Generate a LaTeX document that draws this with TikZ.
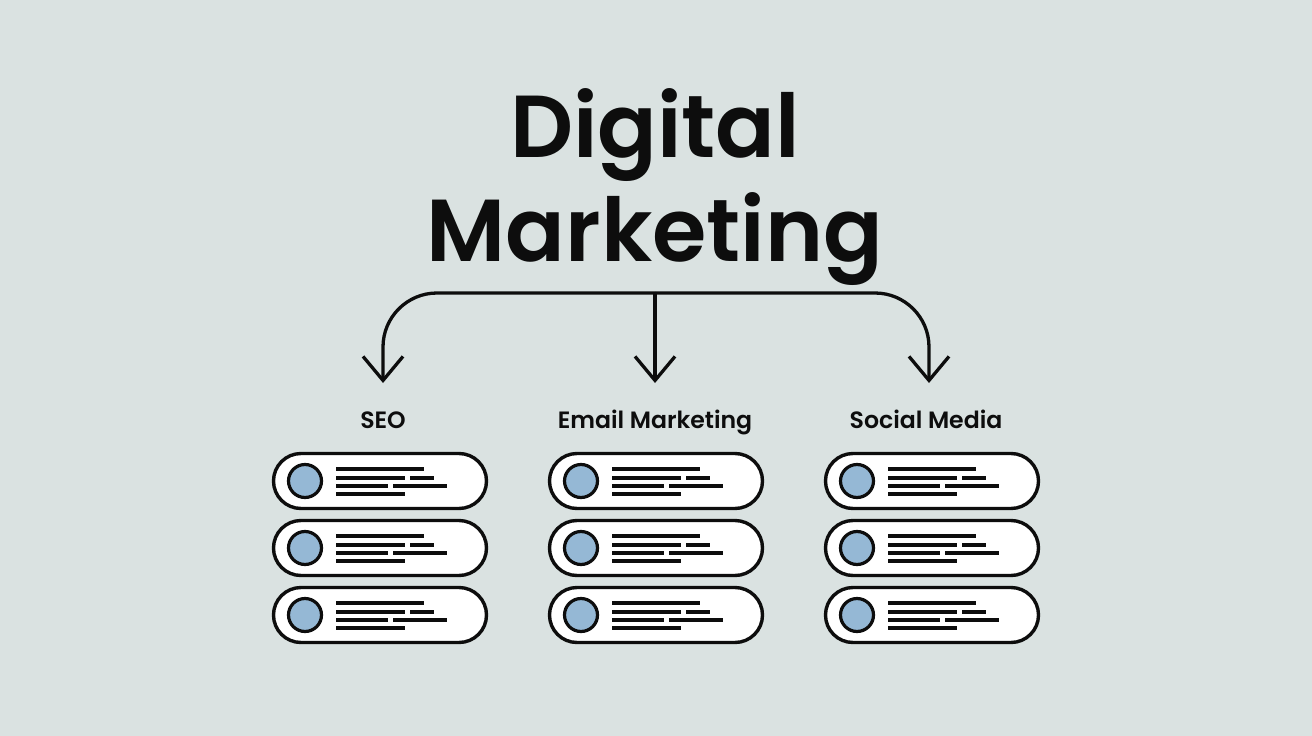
\documentclass[tikz,border=0pt]{standalone}
\usepackage{fontspec}
\setmainfont{Poppins}
\newfontfamily\popmed{Poppins}[UprightFont=* Medium, BoldFont=* SemiBold]
\usetikzlibrary{arrows.meta,calc}
\definecolor{bg}{HTML}{DAE2E1}
\definecolor{ink}{HTML}{0D0D0D}
\definecolor{dotfill}{HTML}{95B8D5}
\begin{document}
\begin{tikzpicture}[x=1pt,y=-1pt,
  titletext/.style={anchor=base, text=ink, inner sep=0pt, font=\fontsize{88}{96}\selectfont\popmed\bfseries},
  cattext/.style={anchor=base, text=ink, inner sep=0pt, font=\fontsize{23.6}{27}\selectfont\popmed\bfseries},
  conn/.style={draw=ink, line width=3.3pt, rounded corners=54pt, -{Straight Barb[length=24pt,width=40pt,line width=3.3pt]}},
  pill/.style={draw=ink, fill=white, line width=3.4pt, minimum width=213pt, minimum height=55pt, rounded corners=27.5pt, inner sep=0pt},
  dotc/.style={draw=ink, fill=dotfill, line width=3.2pt, circle, minimum size=33pt, inner sep=0pt},
  txtline/.style={draw=ink, line width=3.5pt}
]
\fill[bg] (0,0) rectangle (1312,736);
\useasboundingbox (0,0) rectangle (1312,736);

\node[titletext] (t1) at (655,157) {Digital};
\node[titletext] (t2) at (655,261) {Marketing};

\coordinate (hub) at (655,293);
\coordinate (e1) at (383,383);
\coordinate (e2) at (655,383);
\coordinate (e3) at (929,383);

\node[cattext] (c1) at (383,428) {SEO};
\node[cattext] (c2) at (655,428) {Email Marketing};
\node[cattext] (c3) at (926,428) {Social Media};

\draw[conn] (hub) -| (e1);
\draw[conn] (hub) -- (e2);
\draw[conn] (hub) -| (e3);

\foreach \c/\cx in {1/380,2/656,3/932}{
  \foreach \r/\cy in {1/481,2/548,3/615}{
    \node[pill] (p\c\r) at (\cx,\cy) {};
    \node[dotc] (d\c\r) at ([shift={(-75,0)}]p\c\r.center) {};
    \draw[txtline] ([shift={(-44,-12)}]p\c\r.center) -- ([shift={(44,-12)}]p\c\r.center);
    \draw[txtline] ([shift={(-44,-3)}]p\c\r.center) -- ([shift={(25,-3)}]p\c\r.center);
    \draw[txtline] ([shift={(30,-3)}]p\c\r.center) -- ([shift={(54,-3)}]p\c\r.center);
    \draw[txtline] ([shift={(-44,5)}]p\c\r.center) -- ([shift={(8,5)}]p\c\r.center);
    \draw[txtline] ([shift={(13,5)}]p\c\r.center) -- ([shift={(67,5)}]p\c\r.center);
    \draw[txtline] ([shift={(-44,13)}]p\c\r.center) -- ([shift={(25,13)}]p\c\r.center);
  }
}
\end{tikzpicture}
\end{document}
